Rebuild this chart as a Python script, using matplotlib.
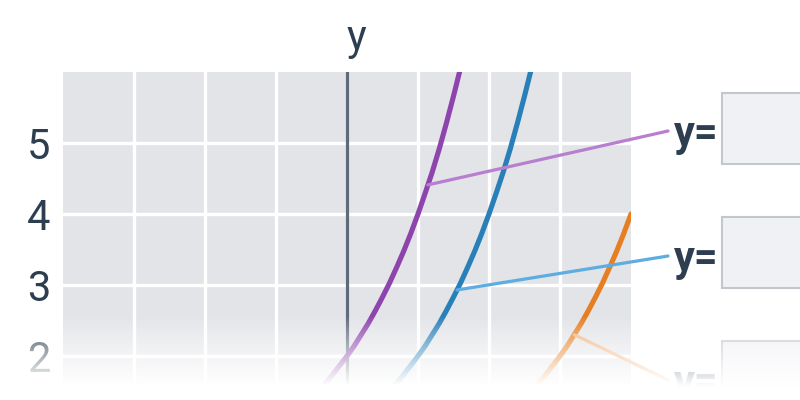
import numpy as np
import matplotlib
matplotlib.use("Agg")
import matplotlib.pyplot as plt
from matplotlib.patches import Rectangle, ConnectionPatch

plt.rcParams['font.family'] = ['Roboto', 'DejaVu Sans']

# ---- data ----
purple_x = [-0.5, -0.4, -0.3, -0.2, -0.1, 0.0, 0.1, 0.2, 0.3, 0.4, 0.5, 0.6, 0.7, 0.8, 0.9, 1.0, 1.1, 1.2, 1.3, 1.4, 1.5, 1.6]
purple_y = [1.41, 1.52, 1.62, 1.74, 1.87, 2.00, 2.14, 2.30, 2.46, 2.64, 2.83, 3.03, 3.25, 3.48, 3.73, 4.00, 4.29, 4.59, 4.92, 5.28, 5.66, 6.06]
blue_x = [0.5, 0.6, 0.7, 0.8, 0.9, 1.0, 1.1, 1.2, 1.3, 1.4, 1.5, 1.6, 1.7, 1.8, 1.9, 2.0, 2.1, 2.2, 2.3, 2.4, 2.5, 2.6]
blue_y = [1.41, 1.52, 1.62, 1.74, 1.87, 2.00, 2.14, 2.30, 2.46, 2.64, 2.83, 3.03, 3.25, 3.48, 3.73, 4.00, 4.29, 4.59, 4.92, 5.28, 5.66, 6.06]
orange_x = [2.5, 2.6, 2.7, 2.8, 2.9, 3.0, 3.1, 3.2, 3.3, 3.4, 3.5, 3.6, 3.7, 3.8, 3.9, 4.0]
orange_y = [1.41, 1.52, 1.62, 1.74, 1.87, 2.00, 2.14, 2.30, 2.46, 2.64, 2.83, 3.03, 3.25, 3.48, 3.73, 4.00]
anchor_x = [1.14, 1.55, 3.2]
y_ticks = [2, 3, 4, 5]
y_tick_labels = ["2", "3", "4", "5"]
x_grid = [-3, -2, -1, 0, 1, 2, 3]
axis_label = "y"
input_label = "y="

# ---- styles ----
TEXT = '#2c3e50'
BG = '#e3e4e8'
curve_colors = ['#8e44ad', '#2980b9', '#e67e22']
conn_colors = ['#b87fd0', '#5dade2', '#f3b27a']

W, H = 800, 400
fig = plt.figure(figsize=(8, 4), dpi=100)

x0, x1 = -4, 4
y0, y1 = 1.6, 6
unit = 71.0
left_px, top_px = 63, 72
ax = fig.add_axes([left_px / W, 1 - (top_px + (y1 - y0) * unit) / H,
                   (x1 - x0) * unit / W, (y1 - y0) * unit / H])
ax.set_xlim(x0, x1)
ax.set_ylim(y0, y1)
ax.set_facecolor(BG)
for s in ax.spines.values():
    s.set_visible(False)
ax.set_xticks(x_grid)
ax.set_xticklabels([])
ax.set_yticks(y_ticks)
ax.set_yticklabels(y_tick_labels, fontsize=30, color=TEXT)
ax.tick_params(length=0, pad=9)
ax.grid(True, color='white', lw=2.4)
ax.set_axisbelow(True)
ax.axvline(0, color='#5f6b7a', lw=2.3, zorder=2)

curves = [(purple_x, purple_y), (blue_x, blue_y), (orange_x, orange_y)]
for (cx, cy), c in zip(curves, curve_colors):
    ax.plot(cx, cy, color=c, lw=3.7, solid_capstyle='round', zorder=3, clip_on=True)

# overlay for labels / boxes in pixel coords
ov = fig.add_axes([0, 0, 1, 1], zorder=5)
ov.set_xlim(0, W)
ov.set_ylim(H, 0)
ov.axis('off')
ov.patch.set_alpha(0)

ov.text(356, 50, axis_label, fontsize=30, color=TEXT, ha='center', va='baseline')

label_end_y = [131, 256, 380]
box_tops = [93, 217, 341]
for i, ((cx, cy), cc) in enumerate(zip(curves, conn_colors)):
    ax_y = float(np.interp(anchor_x[i], cx, cy))
    con = ConnectionPatch(xyA=(anchor_x[i], ax_y), coordsA=ax.transData,
                          xyB=(668, label_end_y[i]), coordsB=ov.transData,
                          color=cc, lw=2.3, capstyle='round', zorder=4)
    fig.add_artist(con)
    ov.text(674, label_end_y[i] + 15, input_label, fontsize=30, fontweight='bold',
            color=TEXT, ha='left', va='baseline')
    ov.add_patch(Rectangle((722, box_tops[i]), 100, 71, facecolor='#f0f1f5',
                           edgecolor='#c3c7cc', lw=1.5))

# bottom fade
fd = fig.add_axes([0, 0, 1, 1], zorder=10)
fd.set_xlim(0, W)
fd.set_ylim(H, 0)
fd.axis('off')
fd.patch.set_alpha(0)
n = 200
ys = np.linspace(316, 400, n)
alpha = np.clip((ys - 316) / (386 - 316), 0, 1) ** 0.9
img = np.ones((n, 2, 4))
img[:, :, 3] = alpha[:, None]
fd.imshow(img, extent=(0, W, 400, 316), aspect='auto', interpolation='bilinear')
fd.set_xlim(0, W)
fd.set_ylim(H, 0)

fig.savefig('out.png', dpi=100)
